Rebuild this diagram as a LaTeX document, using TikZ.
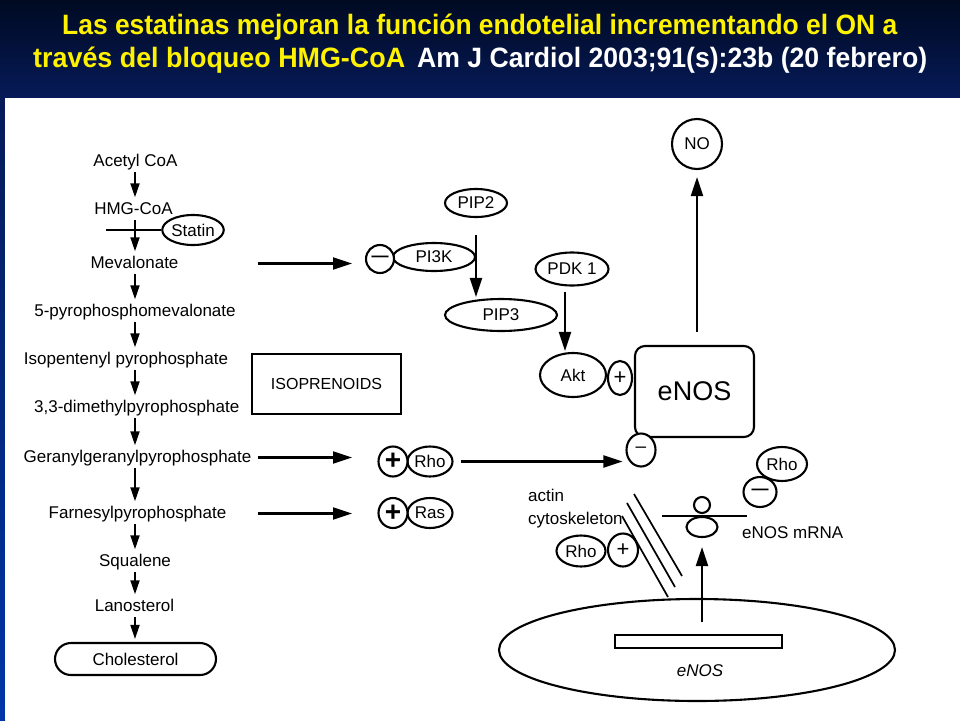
\documentclass[tikz,border=0pt]{standalone}
\usepackage{graphicx}
\usepackage{fontspec}
\setmainfont{Liberation Sans}
\usetikzlibrary{arrows.meta,shapes.geometric}
\definecolor{hdtop}{HTML}{000A22}
\definecolor{hdbot}{HTML}{061A58}
\definecolor{stripbot}{HTML}{0036A8}
\begin{document}
\begin{tikzpicture}[x=1pt,y=-1pt,
  lbl/.style={font=\fontsize{17}{20}\selectfont, inner sep=1pt, text height=12.5pt, text depth=3.5pt},
  sz/.style 2 args={minimum width=#1pt, minimum height=#2pt},
  ov/.style={draw, ellipse, line width=2.1pt, inner sep=0pt, fill=white, font=\fontsize{17}{20}\selectfont},
  sgn/.style={draw, ellipse, line width=2.1pt, inner sep=0pt, fill=white},
  ln/.style={line width=2.1pt},
  arr/.style={line width=1.8pt, -{Triangle[length=14pt,width=9pt]}},
  bigarr/.style={line width=2.1pt, -{Triangle[length=19pt,width=12pt]}},
  ttl/.style={anchor=base west, inner sep=0pt, font=\bfseries\fontsize{28}{30}\selectfont},
  ]
\useasboundingbox (0,0) rectangle (960,720);
% background
\shade[top color=hdtop, bottom color=hdbot] (0,0) rectangle (960,98);
\shade[top color=hdbot, bottom color=stripbot] (0,98) rectangle (5,720);
\fill[white] (5,98) rectangle (960,720);

% title
\node[ttl, text=yellow] (t1) at (62,34) {\resizebox{835pt}{\height}{Las estatinas mejoran la función endotelial incrementando el ON a}};
\node[ttl, text=yellow] (t2a) at (33,67) {\resizebox{372pt}{\height}{través del bloqueo HMG-CoA}};
\node[ttl, text=white] (t2b) at (417,67) {\resizebox{510pt}{\height}{Am J Cardiol 2003;91(s):23b (20 febrero)}};

% left pathway
\coordinate (colx) at (135,0);
\node[lbl] (acetyl) at (135.5,161.5) {Acetyl CoA};
\node[lbl] (hmg) at (133.5,209.5) {HMG-CoA};
\node[lbl] (mev) at (134.5,263.5) {Mevalonate};
\node[lbl] (pyro) at (135,311.5) {5-pyrophosphomevalonate};
\node[lbl] (ipp) at (126,359.5) {Isopentenyl pyrophosphate};
\node[lbl] (dmapp) at (136.7,407.5) {3,3-dimethylpyrophosphate};
\node[lbl] (ggpp) at (137.5,457.5) {Geranylgeranylpyrophosphate};
\node[lbl] (fpp) at (137.5,513.5) {Farnesylpyrophosphate};
\node[lbl] (squal) at (135,561.5) {Squalene};
\node[lbl] (lano) at (134.5,606.5) {Lanosterol};
\node[draw, ln, rounded corners=16pt, sz={161}{32}, font=\fontsize{17}{20}\selectfont, inner sep=0pt] (chol) at (135.5,659) {Cholesterol};

\foreach \a/\b in {acetyl/hmg, hmg/mev, mev/pyro, pyro/ipp, ipp/dmapp, dmapp/ggpp, ggpp/fpp, fpp/squal, squal/lano, lano/chol}
  \draw[arr, shorten <=1.5pt, shorten >=3pt] (\a.south -| colx) -- (\b.north -| colx);

% statin
\node[ov, sz={60}{30}] (statin) at (193,230) {Statin};
\coordinate (blk) at (106,0);
\draw[ln] (statin.west) -- (statin.west -| blk);

% horizontal arrows from pathway
\coordinate (hs) at (258,0);
\coordinate (he) at (352,0);
\draw[bigarr] (mev -| hs) -- (mev -| he);
\draw[bigarr] (ggpp -| hs) -- (ggpp -| he);
\draw[bigarr] (fpp -| hs) -- (fpp -| he);

% PI3K / PIP
\node[ov, sz={62}{28}] (pip2) at (476,203) {PIP2};
\node[ov, sz={82}{28}] (pi3k) at (434,257) {PI3K};
\node[sgn, sz={28}{28}, font=\bfseries\fontsize{17}{20}\selectfont] (m1) at (380,259) {\raisebox{-2pt}{—}};
\node[ov, sz={112}{32}] (pip3) at (501,315) {PIP3};
\draw[bigarr, shorten <=17pt, shorten >=1pt] (pip2.south) -- (pip2.south |- pip3.north);
\node[ov, sz={73}{33}] (pdk) at (572,269) {PDK 1};
\node[ov, sz={66}{44}] (akt) at (573,375) {Akt};
\draw[bigarr, shorten <=5pt, shorten >=1pt] ([xshift=-7pt]pdk.south) -- ([xshift=-7pt]pdk.south |- akt.north);
\node[sgn, sz={24}{34}, font=\fontsize{22}{24}\selectfont] (p1) at (620,378) {+};

% eNOS protein
\node[draw, ln, rounded corners=10pt, sz={119}{91}, font=\fontsize{27}{30}\selectfont, inner sep=0pt] (enos) at (694.5,391.5) {eNOS};
\node[sgn, sz={29}{33}, font=\fontsize{19}{20}\selectfont] (m2) at (641,450) {\raisebox{-2pt}{–}};
\node[draw, circle, ln, minimum size=50pt, inner sep=0pt, font=\fontsize{17}{20}\selectfont] (no) at (697,144) {NO};
\draw[bigarr, shorten <=13pt, shorten >=7pt] (enos.north -| no) -- (no.south);

% isoprenoids
\node[draw, ln, sz={149}{60}, inner sep=0pt, font=\fontsize{16}{20}\selectfont] (iso) at (326.5,384) {ISOPRENOIDS};

% Rho / Ras
\node[ov, sz={45}{30}] (r1) at (430,461.5) {Rho};
\node[sgn, sz={29}{30}, font=\bfseries\fontsize{28}{30}\selectfont] (p2) at (393,461.5) {+};
\node[ov, sz={45}{30}] (ras) at (430,513) {Ras};
\node[sgn, sz={29}{30}, font=\bfseries\fontsize{28}{30}\selectfont] (p3) at (393,513) {+};
\draw[bigarr, shorten <=7pt, shorten >=3pt] (r1.east) -- (r1.east -| m2.west);

% actin cytoskeleton
\node[anchor=base west, inner sep=0pt, font=\fontsize{17}{20}\selectfont] (actin) at (528,501) {actin};
\node[anchor=base west, inner sep=0pt, font=\fontsize{17}{20}\selectfont] (cyto) at (528,524) {cytoskeleton};
\draw[line width=1.7pt] (634,494) -- (682,576);
\draw[line width=1.7pt] (627,503) -- (675,587);
\draw[line width=1.7pt] (622,516) -- (668,597);
\node[ov, sz={49}{31}] (r2) at (581,551) {Rho};
\node[sgn, sz={30}{33}, font=\fontsize{22}{24}\selectfont] (p4) at (623,550) {+};

% upper right Rho
\node[ov, sz={50}{34}] (r3) at (782,464) {Rho};
\node[sgn, sz={33}{30}, font=\bfseries\fontsize{17}{20}\selectfont] (m3) at (760,492) {\raisebox{-2pt}{—}};

% ribosome on mRNA
\draw[ln] (662,516) -- (747,516);
\node[sgn, sz={16}{16}] (ribS) at (702,505) {};
\node[sgn, sz={31}{20}] (ribL) at (702,527) {};
\node[anchor=base west, inner sep=0pt, font=\fontsize{17}{20}\selectfont] (mrna) at (742,538) {eNOS mRNA};

% nucleus
\node[draw, ellipse, ln, sz={396}{102}, inner sep=0pt] (nuc) at (697,650) {};
\node[draw, ln, sz={167}{13}, inner sep=0pt] (gene) at (698.5,641.5) {};
\node[lbl, font=\itshape\fontsize{17}{20}\selectfont] (genetxt) at (700,671.5) {eNOS};
\draw[bigarr, shorten <=12pt, shorten >=9pt] (gene.north -| ribL) -- (ribL.south);
\end{tikzpicture}
\end{document}
